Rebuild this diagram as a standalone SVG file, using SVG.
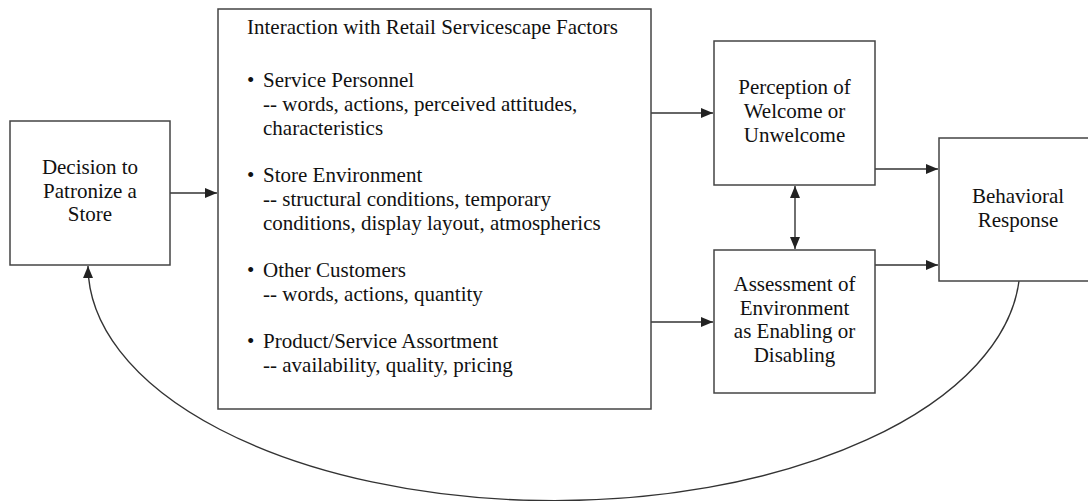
<svg xmlns="http://www.w3.org/2000/svg" width="1088" height="501" viewBox="0 0 1088 501">
<style>
.box{fill:#fff;stroke:#444;stroke-width:1.5}
text{font-family:'Liberation Serif','Times New Roman',Times,'DejaVu Serif',serif;font-size:21px;fill:#111}
.c{text-anchor:middle}
.ln{fill:none;stroke:#333;stroke-width:1.4}
</style>
<defs>
<marker id="ah" viewBox="0 0 12 10" refX="12" refY="5" markerWidth="12" markerHeight="10" markerUnits="userSpaceOnUse" orient="auto-start-reverse">
<path d="M0,0 L12,5 L0,10 Z" fill="#222"/>
</marker>
</defs>
<rect width="1088" height="501" fill="#fff"/>
<g id="connectors">
<line class="ln" x1="170" y1="193" x2="217" y2="193" marker-end="url(#ah)"/>
<line class="ln" x1="651" y1="113" x2="713" y2="113" marker-end="url(#ah)"/>
<line class="ln" x1="651" y1="322" x2="713" y2="322" marker-end="url(#ah)"/>
<line class="ln" x1="795" y1="186" x2="795" y2="249" marker-start="url(#ah)" marker-end="url(#ah)"/>
<line class="ln" x1="875" y1="169" x2="938" y2="169" marker-end="url(#ah)"/>
<line class="ln" x1="875" y1="265" x2="938" y2="265" marker-end="url(#ah)"/>
<path class="ln" d="M1019,281 A466,235 0 0 1 88,266" marker-end="url(#ah)"/>
</g>
<g id="decision">
<rect class="box" x="10" y="121" width="160" height="144"/>
<text class="c" x="90" y="174">Decision to</text>
<text class="c" x="90" y="197.5">Patronize a</text>
<text class="c" x="90" y="221">Store</text>
</g>
<g id="interaction">
<rect class="box" x="218" y="9" width="433" height="400"/>
<text x="247" y="34">Interaction with Retail Servicescape Factors</text>
<text x="247" y="87">•</text>
<text x="263" y="87">Service Personnel</text>
<text x="263" y="110.75">-- words, actions, perceived attitudes,</text>
<text x="263" y="134.5">characteristics</text>
<text x="247" y="182">•</text>
<text x="263" y="182">Store Environment</text>
<text x="263" y="205.75">-- structural conditions, temporary</text>
<text x="263" y="229.5">conditions, display layout, atmospherics</text>
<text x="247" y="277">•</text>
<text x="263" y="277">Other Customers</text>
<text x="263" y="300.75">-- words, actions, quantity</text>
<text x="247" y="348.25">•</text>
<text x="263" y="348.25">Product/Service Assortment</text>
<text x="263" y="372">-- availability, quality, pricing</text>
</g>
<g id="perception">
<rect class="box" x="714" y="41" width="161" height="144"/>
<text class="c" x="794.5" y="94">Perception of</text>
<text class="c" x="794.5" y="118">Welcome or</text>
<text class="c" x="794.5" y="142">Unwelcome</text>
</g>
<g id="assessment">
<rect class="box" x="714" y="250" width="161" height="143"/>
<text class="c" x="794.5" y="291">Assessment of</text>
<text class="c" x="794.5" y="314.5">Environment</text>
<text class="c" x="794.5" y="338">as Enabling or</text>
<text class="c" x="794.5" y="361.5">Disabling</text>
</g>
<g id="behavioral">
<rect class="box" x="939" y="138" width="158" height="143"/>
<text class="c" x="1018" y="203">Behavioral</text>
<text class="c" x="1018" y="227">Response</text>
</g>
</svg>
